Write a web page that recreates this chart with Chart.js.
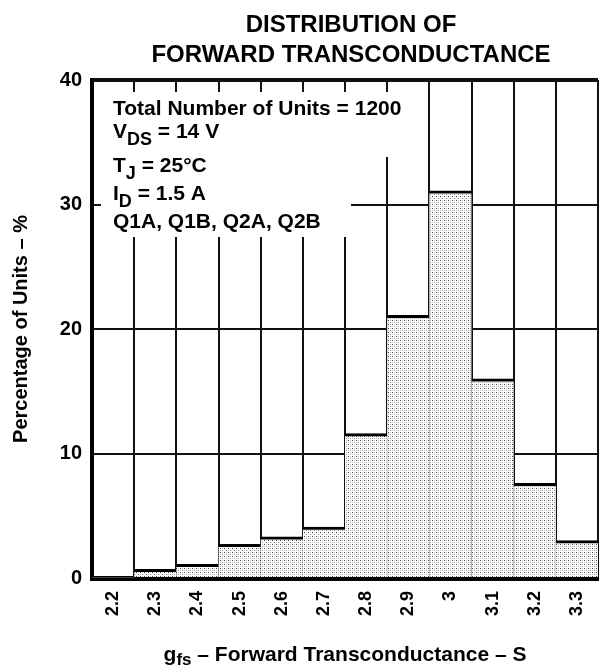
<!DOCTYPE html>
<html>
<head>
<meta charset="utf-8">
<script src="https://cdn.jsdelivr.net/npm/chart.js@4.4.1/dist/chart.umd.min.js"></script>
<style>
  html, body { margin: 0; padding: 0; background: #fff; }
  #wrap { width: 600px; height: 669px; position: relative; }
</style>
</head>
<body>
<div id="wrap"><canvas id="c"></canvas></div>
<script>
// Histogram bins (gfs, S) and share of units in each bin (%)
const categories = ['2.2', '2.3', '2.4', '2.5', '2.6', '2.7', '2.8', '2.9', '3', '3.1', '3.2', '3.3'];
const percentUnits = [0, 0.7, 1.1, 2.7, 3.3, 4.1, 11.6, 21.1, 31.1, 16.0, 7.6, 3.0];
const yTickValues = [0, 10, 20, 30, 40];

const titleLines = ['DISTRIBUTION OF', 'FORWARD TRANSCONDUCTANCE'];
const yTitle = 'Percentage of Units – %';
const xTitleRuns = [{ t: 'g' }, { t: 'fs', sub: true }, { t: ' – Forward Transconductance – S' }];
const conditionLines = [
  [{ t: 'Total Number of Units = 1200' }],
  [{ t: 'V' }, { t: 'DS', sub: true }, { t: ' = 14 V' }],
  [{ t: 'T' }, { t: 'J', sub: true }, { t: ' = 25°C' }],
  [{ t: 'I' }, { t: 'D', sub: true }, { t: ' = 1.5 A' }],
  [{ t: 'Q1A, Q1B, Q2A, Q2B' }]
];

const FONT = '"Liberation Sans", Arial, Helvetica, sans-serif';

// Stippled fill used for the bars
function makeStipple() {
  const t = document.createElement('canvas');
  t.width = 4; t.height = 4;
  const g = t.getContext('2d');
  g.fillStyle = '#fff'; g.fillRect(0, 0, 4, 4);
  g.fillStyle = '#444'; g.fillRect(0, 0, 1, 1);
  g.fillStyle = '#999'; g.fillRect(2, 2, 1, 1);
  g.fillStyle = '#c4c4c4'; g.fillRect(2, 0, 1, 1); g.fillRect(0, 2, 1, 1);
  return document.getElementById('c').getContext('2d').createPattern(t, 'repeat');
}

// Draws a line of text made of normal and subscript runs
function drawRuns(ctx, runs, x, y, size, subSize, subDy, align) {
  const widths = runs.map(r => {
    ctx.font = 'bold ' + (r.sub ? subSize : size) + 'px ' + FONT;
    return ctx.measureText(r.t).width;
  });
  const total = widths.reduce((a, b) => a + b, 0);
  let cx = align === 'center' ? x - total / 2 : x;
  ctx.textAlign = 'left';
  ctx.textBaseline = 'alphabetic';
  runs.forEach((r, i) => {
    ctx.font = 'bold ' + (r.sub ? subSize : size) + 'px ' + FONT;
    ctx.fillText(r.t, cx, y + (r.sub ? subDy : 0));
    cx += widths[i];
  });
}

const textPlugin = {
  id: 'texts',
  afterDraw(chart) {
    const ctx = chart.ctx;
    const area = chart.chartArea;
    ctx.save();
    // white panel behind the test conditions
    ctx.fillStyle = '#fff';
    ctx.fillRect(area.left + 9, area.top + 12, 316, 65);
    ctx.fillRect(area.left + 9, area.top + 76, 250, 81);
    ctx.fillStyle = '#000';
    const baselines = [115, 138, 172, 200, 228];
    conditionLines.forEach((runs, i) => drawRuns(ctx, runs, 113, baselines[i], 21, 18, 7, 'left'));

    // chart title
    ctx.font = 'bold 24px ' + FONT;
    ctx.textAlign = 'center';
    ctx.textBaseline = 'alphabetic';
    ctx.fillText(titleLines[0], 351, 32);
    ctx.fillText(titleLines[1], 351, 62);

    // x-axis title
    drawRuns(ctx, xTitleRuns, (area.left + area.right) / 2, 661, 21, 17, 4, 'center');
    ctx.restore();
  }
};

const stipple = makeStipple();

new Chart(document.getElementById('c'), {
  type: 'bar',
  data: {
    labels: categories,
    datasets: [{
      data: percentUnits,
      backgroundColor: stipple,
      borderColor: '#000',
      borderWidth: c => ({ top: c.raw > 0 ? 3 : 0, left: 0, right: 0, bottom: 0 }),
      borderSkipped: false,
      barPercentage: 1,
      categoryPercentage: 1
    }]
  },
  options: {
    responsive: true,
    maintainAspectRatio: false,
    animation: false,
    devicePixelRatio: 1,
    layout: { padding: { top: 80, right: 2, left: 0, bottom: 0 } },
    plugins: { legend: { display: false }, tooltip: { enabled: false }, title: { display: false } },
    scales: {
      x: {
        type: 'category',
        offset: true,
        z: 1,
        grid: { offset: true, color: '#111', lineWidth: 2, drawTicks: false },
        border: { display: true, width: 5, color: '#000' },
        ticks: {
          color: '#000', autoSkip: false, maxRotation: 90, minRotation: 90, padding: 13,
          font: { family: FONT, size: 18, weight: 'bold' }
        },
        afterFit(s) { s.height = 91; s.paddingLeft = 0; s.paddingRight = 0; }
      },
      y: {
        min: 0, max: 40,
        z: 1,
        afterBuildTicks(s) { s.ticks = yTickValues.map(v => ({ value: v })); },
        grid: {
          color: '#111',
          lineWidth: c => (c.tick && c.tick.value === 40 ? 4 : 2),
          drawTicks: false
        },
        border: { display: true, width: 4, color: '#000' },
        ticks: { color: '#000', padding: 10, font: { family: FONT, size: 20, weight: 'bold' } },
        title: {
          display: true, text: yTitle, color: '#000',
          font: { family: FONT, size: 20, weight: 'bold' },
          padding: { top: 9, bottom: 0 }
        },
        afterFit(s) { s.width = 92; }
      }
    }
  },
  plugins: [textPlugin]
});
</script>
</body>
</html>
